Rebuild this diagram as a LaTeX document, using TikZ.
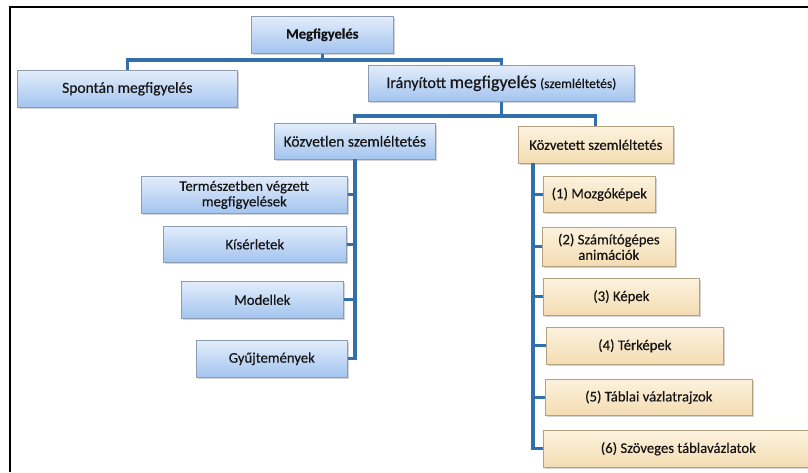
\documentclass[tikz,border=0pt]{standalone}
\usepackage{fontspec}
\setmainfont{Carlito}[FakeBold=0.35]
\usetikzlibrary{shadows}

\definecolor{connblue}{HTML}{3170AD}
\definecolor{bluetop}{HTML}{E3EDFB}
\definecolor{bluebot}{HTML}{A3C4EF}
\definecolor{blueedge}{HTML}{8C9DB3}
\definecolor{tantop}{HTML}{FCF2DE}
\definecolor{tanbot}{HTML}{F4DCB2}
\definecolor{tanedge}{HTML}{B3A27F}
\definecolor{ink}{HTML}{151515}

\tikzset{
  box/.style={draw, line width=0.6pt, anchor=north west, inner sep=1pt,
    align=center, text=ink,
    drop shadow={shadow xshift=1.2pt, shadow yshift=-1.8pt, opacity=0.35}},
  bluebox/.style={box, draw=blueedge, top color=bluetop, bottom color=bluebot},
  tanbox/.style={box, draw=tanedge, top color=tantop, bottom color=tanbot},
  big/.style={font=\fontsize{15.5}{17}\selectfont},
  item/.style={font=\fontsize{14.7}{15.5}\selectfont},
  conn/.style={draw=connblue, line width=3.2pt},
  wh/.style n args={2}{minimum width=#1pt, minimum height=#2pt},
}

\begin{document}
\begin{tikzpicture}[x=1pt, y=-1pt]
  \useasboundingbox (0,0) rectangle (808,472);

  % frame
  \draw[line width=1.4pt] (10,472) -- (10,7) -- (808,7);

  % bus coordinates
  \coordinate (topbus) at (0,60);
  \coordinate (midbus) at (0,116);
  \coordinate (kvbus) at (355,159);
  \coordinate (ktbus) at (533,163);

  % upper levels
  \node[bluebox, wh={142}{37}, font=\fontsize{14.5}{16}\selectfont\bfseries] (megf) at (251,16) {Megfigyelés};
  \node[bluebox, wh={220}{37}, big] (spont) at (17,70) {Spontán megfigyelés};
  \node[bluebox, wh={266}{36}, font=\fontsize{16}{18}\selectfont] (iran) at (368,65)
    {Irányított {\fontsize{18}{20}\selectfont megfigyelés} {\fontsize{13.5}{15}\selectfont (szemléltetés)}};
  \node[bluebox, wh={161}{36}, big] (kozvetlen) at (274,123) {Közvetlen szemléltetés};
  \node[tanbox, wh={155}{37}, item] (kozvetett) at (518,126) {Közvetett szemléltetés};

  % direct observation items
  \node[bluebox, wh={206}{37}, item] (ter) at (141,176) {Természetben végzett\\megfigyelések};
  \node[bluebox, wh={183}{36}, item] (kis) at (163,226) {Kísérletek};
  \node[bluebox, wh={162}{37}, item] (mod) at (181,281) {Modellek};
  \node[bluebox, wh={151}{37}, item] (gyu) at (196,340) {Gyűjtemények};

  % indirect observation items
  \node[tanbox, wh={112}{36}, item] (i1) at (543,176) {(1) Mozgóképek};
  \node[tanbox, wh={133}{39}, item] (i2) at (542,227) {(2) Számítógépes\\animációk};
  \node[tanbox, wh={156}{37}, item] (i3) at (543,278) {(3) Képek};
  \node[tanbox, wh={177}{37}, item] (i4) at (546,327) {(4) Térképek};
  \node[tanbox, wh={207}{36}, item] (i5) at (545,379) {(5) Táblai vázlatrajzok};
  \node[tanbox, wh={270}{37}, item] (i6) at (543,430) {(6) Szöveges táblavázlatok};

  % connectors: top level
  \draw[conn] (megf.south) -- (megf.south |- topbus);
  \draw[conn] (spont.north) |- (topbus -| iran.north) -- (iran.north);

  % connectors: second level
  \draw[conn] (iran.south) -- (iran.south |- midbus);
  \draw[conn] (kozvetlen.north) |- (midbus -| kozvetett.north) -- (kozvetett.north);

  % connectors: direct observation
  \draw[conn] (kvbus) |- (gyu.east);
  \foreach \n in {ter,kis,mod}
    \draw[conn] (\n.east) -- (\n.east -| kvbus);

  % connectors: indirect observation
  \draw[conn] (ktbus) |- (i6.west);
  \foreach \n in {i1,i2,i3,i4,i5}
    \draw[conn] (\n.west) -- (\n.west -| ktbus);
\end{tikzpicture}
\end{document}
